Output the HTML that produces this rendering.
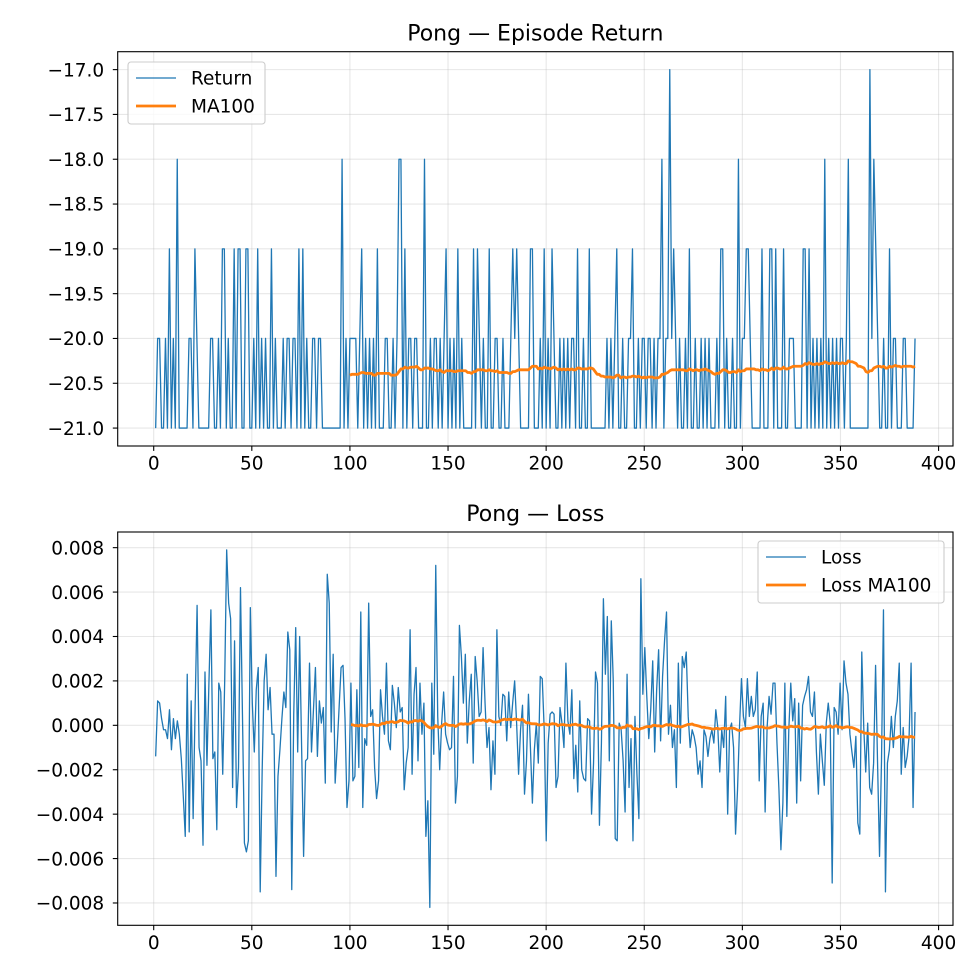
<!DOCTYPE html>
<html><head><meta charset="utf-8">
<style>
html,body{margin:0;padding:0;background:#fff;}
svg{display:block;font-family:"DejaVu Sans","Liberation Sans",sans-serif;}
</style></head>
<body>
<svg id="fig" width="980" height="980" viewBox="0 0 980 980" xmlns="http://www.w3.org/2000/svg">
<rect x="0" y="0" width="980" height="980" fill="#fff"/>
</svg>
<script>
// ---- Data: Pong episode return ----
const returnValues = [
-21,-20,-20,-21,-21,-20,-21,-19,-21,-20,
-21,-18,-21,-21,-21,-21,-21,-20,-20,-21,
-19,-20,-21,-21,-21,-21,-21,-21,-20,-20,
-21,-21,-20,-21,-19,-19,-21,-20,-21,-21,
-19,-21,-19,-19,-21,-21,-19,-19,-21,-21,
-20,-21,-19,-21,-20,-21,-20,-21,-21,-19,
-21,-20,-21,-21,-21,-20,-21,-20,-20,-21,
-20,-20,-21,-19,-21,-19,-21,-20,-21,-21,
-20,-20,-21,-20,-20,-21,-21,-21,-21,-21,
-21,-21,-21,-21,-21,-18,-21,-20,-21,-20,
-20,-20,-20,-21,-20,-19,-21,-20,-21,-20,
-21,-20,-21,-19,-21,-21,-21,-20,-20,-21,
-21,-20,-21,-20,-18,-18,-21,-19,-21,-20,
-20,-21,-20,-20,-21,-21,-21,-18,-21,-21,
-20,-21,-20,-20,-21,-20,-21,-20,-19,-21,
-20,-21,-20,-21,-19,-21,-20,-21,-21,-21,
-21,-21,-19,-21,-19,-20,-21,-20,-21,-21,
-19,-21,-21,-20,-20,-21,-21,-20,-21,-21,
-21,-20,-19,-20,-19,-20,-21,-21,-21,-21,
-21,-19,-19,-21,-21,-21,-20,-21,-19,-21,
-20,-21,-19,-20,-21,-21,-20,-21,-20,-21,
-20,-21,-20,-20,-21,-19,-21,-21,-20,-21,
-21,-19,-21,-21,-21,-21,-21,-21,-21,-21,
-20,-21,-20,-21,-20,-19,-21,-21,-20,-21,
-21,-20,-20,-19,-21,-21,-20,-21,-20,-20,
-21,-20,-20,-21,-20,-21,-20,-20,-18,-21,
-20,-20,-17,-20,-19,-20,-21,-20,-21,-21,
-20,-21,-19,-21,-21,-20,-21,-21,-20,-21,
-20,-21,-20,-21,-21,-21,-20,-21,-19,-19,
-21,-20,-21,-21,-20,-21,-21,-18,-21,-20,
-20,-19,-19,-20,-21,-21,-21,-21,-21,-19,
-21,-21,-21,-19,-19,-21,-19,-21,-21,-21,
-19,-21,-21,-20,-20,-20,-21,-21,-21,-21,
-19,-19,-21,-19,-21,-20,-21,-20,-21,-20,
-21,-18,-21,-20,-21,-20,-21,-20,-21,-20,
-20,-21,-20,-18,-21,-21,-21,-21,-21,-21,
-21,-21,-21,-21,-17,-20,-18,-19,-20,-21,
-21,-20,-21,-21,-19,-21,-20,-20,-21,-21,
-21,-20,-20,-21,-21,-21,-21,-20
];
// ---- Data: Pong loss (x1e-3) ----
const lossValuesE3 = [
-1.4,1.1,1.0,0.3,-0.2,-0.2,-0.6,0.7,-1.1,0.3,
-0.6,0.2,-0.4,-1.5,-3.2,-5.0,2.3,-4.8,1.1,-4.2,
0.8,5.4,-1.0,-1.6,-5.4,2.4,-1.8,1.9,5.2,-1.5,
-1.2,-4.7,1.9,1.5,-2.2,2.0,7.9,5.5,4.8,-2.8,
3.8,-3.7,-1.9,6.2,0.5,-5.3,-5.7,-5.2,5.3,1.0,
-1.2,1.6,2.6,-7.5,-2.0,2.0,3.2,0.7,1.7,-0.4,
-0.4,-6.8,-2.3,-1.1,0.3,1.5,0.8,4.2,3.4,-7.4,
0.5,4.4,-1.2,4.0,-1.0,-5.9,-1.6,-1.5,2.8,-1.2,
0.7,2.6,-1.4,1.1,0.1,0.8,-2.6,6.8,5.5,-0.3,
3.2,-2.6,-1.0,0.8,2.6,2.7,0.3,-3.7,-2.5,1.9,
-2.5,-2.3,1.6,-1.9,5.1,-3.7,-0.6,-0.9,5.5,0.4,
0.7,-1.9,-3.3,-2.5,1.6,0.4,-0.4,2.8,-0.7,-1.1,
1.8,1.0,-0.1,1.7,0.6,0.8,-2.9,-1.7,-1.0,4.3,
-2.2,1.4,2.6,-1.6,1.9,-0.4,1.0,-5.0,-3.4,-8.2,
1.9,-1.3,7.2,0.4,-2.0,0.1,1.5,-0.4,-0.8,-1.1,
-1.0,2.2,-3.5,-2.3,4.5,3.1,1.0,3.2,-0.8,1.1,
2.3,-1.7,3.1,2.0,0.4,0.6,3.5,1.0,-1.0,-0.1,
-2.9,-0.7,-2.2,4.3,0.4,0.0,1.4,1.3,-0.7,1.5,
-0.1,1.0,2.0,0.1,-2.2,-0.2,0.9,-3.1,-1.6,1.4,
-1.0,-3.5,-1.1,0.1,-1.7,2.2,2.1,-0.2,-5.2,-0.8,
0.5,0.6,0.5,-2.8,-2.3,0.8,0.1,-1.0,2.8,0.2,
-0.4,1.6,-2.4,-0.9,-3.0,1.1,-2.0,-2.4,-2.5,0.3,
0.2,-4.0,-1.7,2.4,1.9,-4.5,-0.8,5.7,2.3,4.9,
-1.6,4.7,2.0,-5.1,-5.2,0.1,-0.2,-1.6,-3.9,2.3,
-2.8,-0.6,-5.2,0.4,-2.2,-4.2,6.6,1.4,3.5,1.3,
-0.6,0.7,2.9,-1.2,1.6,3.4,-0.7,2.2,3.8,5.1,
-0.4,0.9,-1.0,-0.2,-2.8,2.8,-0.8,3.1,2.6,3.3,
0.4,-1.0,-0.2,-0.5,-1.0,-2.2,-1.6,-2.8,-0.2,-0.5,
-1.4,-0.6,-0.2,-0.8,0.7,-0.1,-2.1,-0.2,-1.0,1.3,
-4.0,-0.2,0.1,-1.0,-4.9,-2.9,-0.1,2.1,0.4,-0.1,
2.1,0.4,1.3,0.4,0.7,2.4,-2.5,0.4,1.0,-3.9,
-0.1,1.3,0.5,1.9,1.9,-0.8,-2.9,-5.6,-3.5,1.9,
-4.1,-0.2,1.9,0.2,1.2,-3.5,1.0,-2.5,0.9,1.3,
1.6,2.2,0.6,0.4,1.5,-1.2,-3.1,-0.4,-1.6,-2.7,
0.1,1.0,0.1,-7.1,0.8,0.6,-0.4,1.9,-0.2,2.9,
1.9,1.4,-0.4,-1.2,-1.9,-0.5,-4.4,-4.9,3.3,-0.1,
-2.1,0.1,-2.8,-3.1,-1.7,2.7,-1.7,-5.9,-1.6,
5.2,-7.5,-1.7,-1.1,0.4,-1.0,0.4,1.1,2.8,-2.2,
-0.1,-1.9,-1.4,-0.5,2.8,-3.7,0.6
];
const xTickValues = [0,50,100,150,200,250,300,350,400];
const returnTickValues = [-21.0,-20.5,-20.0,-19.5,-19.0,-18.5,-18.0,-17.5,-17.0];
const lossTickValuesE3 = [-8,-6,-4,-2,0,2,4,6,8];
const maWindow = 100;

const NS = "http://www.w3.org/2000/svg";
const svg = document.getElementById('fig');
function mk(tag, attrs, parent){
  const e = document.createElementNS(NS, tag);
  for (const k in attrs) e.setAttribute(k, attrs[k]);
  (parent||svg).appendChild(e);
  return e;
}
function movingAvg(arr, w){
  const out = [];
  for (let i = w-1; i < arr.length; i++){
    let s = 0; for (let j = i-w+1; j <= i; j++) s += arr[j];
    out.push({x: i+1, y: s/w});
  }
  return out;
}
function fmtMinus(s){ return s.replace('-', '\u2212'); }

function drawPanel(cfg){
  const {L,R,T,B} = cfg;
  const g = mk('g', {});
  
  
  const n = cfg.values.length;
  const xmin = 1, xmax = 388, xm = (xmax-xmin)*0.05;
  const x0 = xmin - xm, x1 = xmax + xm;
  const ymin = Math.min(...cfg.values), ymax = Math.max(...cfg.values), ym = (ymax-ymin)*0.05;
  const y0 = ymin - ym, y1 = ymax + ym;
  const step = (n > 1) ? (xmax - xmin)/(n - 1) : 1;
  const xAt = i => xmin + i*step;
  const sx = v => L + (v - x0)/(x1 - x0)*(R - L);
  const sy = v => B - (v - y0)/(y1 - y0)*(B - T);
  // grid
  const grid = mk('g', {}, g);
  
  
  xTickValues.forEach(t => { const X = sx(t); if (X < L || X > R) return;
    const l = mk('line', {x1:X, x2:X, y1:T, y2:B, stroke:'#b0b0b0', 'stroke-opacity':0.3, 'stroke-width':1.1}, grid);
    
    
  });
  cfg.yticks.forEach(t => { const Y = sy(t);
    const l = mk('line', {x1:L, x2:R, y1:Y, y2:Y, stroke:'#b0b0b0', 'stroke-opacity':0.3, 'stroke-width':1.1}, grid);
    
    
  });
  // raw series
  let d = cfg.values.map((v,i) => (i?'L':'M') + sx(xAt(i)).toFixed(2) + ' ' + sy(v).toFixed(2)).join(' ');
  const raw = mk('path', {d, fill:'none', stroke:'#1f77b4', 'stroke-width':1.3, 'stroke-linejoin':'round'}, g);
  
  
  // MA
  const ma = movingAvg(cfg.values, maWindow);
  d = ma.map((p,i) => (i?'L':'M') + sx(xAt(p.x-1)).toFixed(2) + ' ' + sy(p.y).toFixed(2)).join(' ');
  const mal = mk('path', {d, fill:'none', stroke:'#ff7f0e', 'stroke-width':2.8, 'stroke-linejoin':'round'}, g);
  
  
  // frame
  const fr = mk('rect', {x:L, y:T, width:R-L, height:B-T, fill:'none', stroke:'#000', 'stroke-width':1.1}, g);
  
  
  // x ticks
  xTickValues.forEach(t => { const X = sx(t);
    const tk = mk('line', {x1:X, x2:X, y1:B, y2:B+4.9, stroke:'#000', 'stroke-width':1.1}, g);
    
    
    const tx = mk('text', {x:X, y:B+23.5, 'font-size':18.5, 'text-anchor':'middle', fill:'#000'}, g);
    tx.textContent = String(t);
    
    
  });
  // y ticks
  cfg.yticks.forEach((t,i) => { const Y = sy(t);
    const tk = mk('line', {x1:L-4.9, x2:L, y1:Y, y2:Y, stroke:'#000', 'stroke-width':1.1}, g);
    
    
    const tx = mk('text', {x:L-13.5, y:Y+6.7, 'font-size':18.5, 'text-anchor':'end', fill:'#000'}, g);
    tx.textContent = cfg.ylabels[i];
    
    
  });
  // title
  const ti = mk('text', {x:(L+R)/2, y:T-11, 'font-size':22, 'text-anchor':'middle', fill:'#000'}, g);
  ti.textContent = cfg.title;
  
  
  // legend
  const lg = mk('g', {}, g);
  
  
  const b = cfg.legend;
  mk('rect', {x:b.x, y:b.y, width:b.w, height:62, rx:3, fill:'#fff', 'fill-opacity':0.8, stroke:'#ccc', 'stroke-width':1.1}, lg);
  const e1 = mk('g', {}, lg);
  
  
  mk('line', {x1:b.x+8, x2:b.x+48, y1:b.y+16, y2:b.y+16, stroke:'#1f77b4', 'stroke-width':1.3}, e1);
  const t1 = mk('text', {x:b.x+63, y:b.y+22.5, 'font-size':18.5, fill:'#000'}, e1);
  t1.textContent = cfg.rawLabel;
  const e2 = mk('g', {}, lg);
  
  
  mk('line', {x1:b.x+8, x2:b.x+48, y1:b.y+44, y2:b.y+44, stroke:'#ff7f0e', 'stroke-width':2.8}, e2);
  const t2 = mk('text', {x:b.x+63, y:b.y+50.5, 'font-size':18.5, fill:'#000'}, e2);
  t2.textContent = cfg.maLabel;
}

drawPanel({
  name:'return-panel', L:117.7, R:953, T:51.7, B:446,
  values: returnValues, yticks: returnTickValues,
  ylabels: returnTickValues.map(v => fmtMinus(v.toFixed(1))),
  title:'Pong \u2014 Episode Return', rawName:'return-line', maName:'return-ma100-line',
  rawLabel:'Return', maLabel:'MA100', legend:{x:128, y:62, w:137}
});
const lossValues = lossValuesE3.map(v => v/1000);
drawPanel({
  name:'loss-panel', L:117.7, R:953, T:532, B:925.3,
  values: lossValues, yticks: lossTickValuesE3.map(v => v/1000),
  ylabels: lossTickValuesE3.map(v => fmtMinus((v/1000).toFixed(3))),
  title:'Pong \u2014 Loss', rawName:'loss-line', maName:'loss-ma100-line',
  rawLabel:'Loss', maLabel:'Loss MA100', legend:{x:758, y:541, w:186}
});
</script>
</body></html>
